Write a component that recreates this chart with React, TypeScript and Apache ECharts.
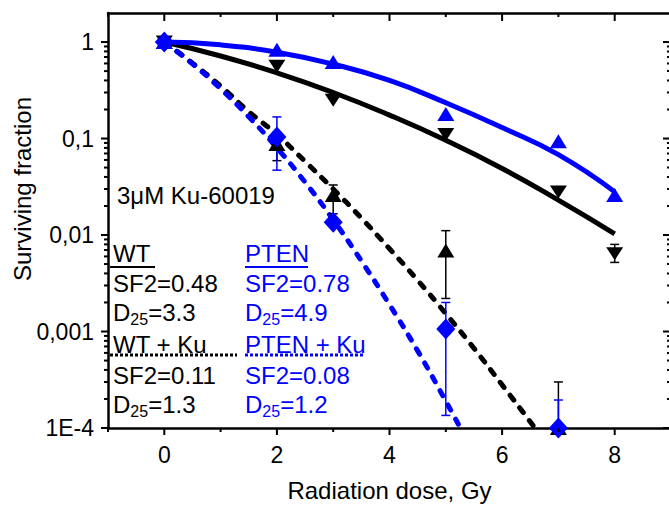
import React, { useEffect, useRef } from 'react';
import * as echarts from 'echarts';

// ---- measured data ----
const doses = [0, 2, 3, 5, 7, 8];
const wtSF = [1, 0.56, 0.25, 0.11, 0.028, 0.0064];
const ptenSF = [1, 0.83, 0.62, 0.18, 0.094, 0.026];
const kuDoses = [0, 2, 3, 5, 7];
const wtKuSF = [1, 0.088, 0.026, 0.0069, 0.0001];
const ptenKuSF = [1, 0.104, 0.0136, 0.00106, 0.0001];

// error bars
const wtErrDoses = [8];
const wtErrLow = [0.0052];
const wtErrHigh = [0.008];
const wtKuErrDoses = [2, 3, 5, 7];
const wtKuErrLow = [0.059, 0.0166, 0.0022, 0.0001];
const wtKuErrHigh = [0.11, 0.033, 0.0111, 0.0003];
const ptenKuErrDoses = [2, 5, 7];
const ptenKuErrLow = [0.047, 0.000135, 0.0001];
const ptenKuErrHigh = [0.1675, 0.002, 0.000195];

// fitted curves
const fitDoses = [0, 1, 2, 3, 4, 5, 6, 7, 8];
const wtFit = [1, 0.717, 0.48, 0.3, 0.175, 0.096, 0.049, 0.023, 0.0103];
const ptenFit = [1, 0.935, 0.785, 0.59, 0.4, 0.235, 0.13, 0.068, 0.028];
const wtKuFitDoses = [0, 0.5, 1, 1.5, 2, 2.5, 3, 3.5, 4, 4.5, 5, 5.5, 6, 6.5, 6.8];
const wtKuFit = [1, 0.605, 0.35, 0.19, 0.11, 0.058, 0.03, 0.015, 0.0072, 0.0034, 0.00153, 0.00067, 0.00028, 0.000116, 0.000067];
const ptenKuFitDoses = [0, 0.5, 1, 1.5, 2, 2.5, 3, 3.5, 4, 4.5, 5, 5.3];
const ptenKuFit = [1, 0.595, 0.328, 0.168, 0.08, 0.0353, 0.0144, 0.0054, 0.0019, 0.00063, 0.00019, 0.00009];

// axes
const X_MIN = -1;
const X_MAX = 9;
const Y_MIN = 0.0001;
const Y_MAX = 2;
const yTickLabels = ['1E-4', '0,001', '0,01', '0,1', '1'];
const xMajorTicks = [0, 2, 4, 6, 8];
const xMinorTicks = [-1, 1, 3, 5, 7, 9];
const yMajorTicks = [0.0001, 0.001, 0.01, 0.1, 1];
const yMinorMantissas = [2, 3, 4, 5, 6, 7, 8, 9];
const xTitle = 'Radiation dose, Gy';
const yTitle = 'Surviving fraction';

// annotation texts
const noteText = '3μM Ku-60019';
const leftCol = ['WT', 'SF2=0.48', '{m|D}{s|25}{m|=3.3}', 'WT + Ku', 'SF2=0.11', '{m|D}{s|25}{m|=1.3}'];
const rightCol = ['PTEN', 'SF2=0.78', '{m|D}{s|25}{m|=4.9}', 'PTEN + Ku', 'SF2=0.08', '{m|D}{s|25}{m|=1.2}'];

const BLUE = '#0000ff';
const BLACK = '#000000';
const FONT = 'Arial, "Liberation Sans", sans-serif';

const zip = (xs: number[], ys: number[]) => xs.map((x, i) => [x, ys[i]]);

function yMinorTicks(): number[] {
  const out: number[] = [];
  for (let e = -4; e <= -1; e++) {
    for (const m of yMinorMantissas) out.push(Number((m * Math.pow(10, e)).toPrecision(6)));
  }
  return out;
}

function xTickSeries(values: number[], lenBottom: number, lenTop: number) {
  return {
    type: 'custom',
    clip: false,
    silent: true,
    z: 10,
    data: values.map((v) => [v, 1]),
    renderItem: (_p: any, api: any) => {
      const x = api.value(0);
      const b = api.coord([x, Y_MIN]);
      const t = api.coord([x, Y_MAX]);
      return {
        type: 'group',
        children: [
          { type: 'line', shape: { x1: b[0], y1: b[1], x2: b[0], y2: b[1] + lenBottom }, style: { stroke: BLACK, lineWidth: 2 } },
          { type: 'line', shape: { x1: t[0], y1: t[1], x2: t[0], y2: t[1] + lenTop }, style: { stroke: BLACK, lineWidth: 2 } },
        ],
      };
    },
  };
}

function yTickSeries(values: number[], lenLeft: number, lenRight: number) {
  return {
    type: 'custom',
    clip: false,
    silent: true,
    z: 10,
    data: values.map((v) => [0, v]),
    renderItem: (_p: any, api: any) => {
      const y = api.value(1);
      const l = api.coord([X_MIN, y]);
      const r = api.coord([X_MAX, y]);
      return {
        type: 'group',
        children: [
          { type: 'line', shape: { x1: l[0] - lenLeft, y1: l[1], x2: l[0], y2: l[1] }, style: { stroke: BLACK, lineWidth: 2 } },
          { type: 'line', shape: { x1: r[0] - lenRight, y1: r[1], x2: r[0], y2: r[1] }, style: { stroke: BLACK, lineWidth: 2 } },
        ],
      };
    },
  };
}

function errSeries(xs: number[], low: number[], high: number[], color: string, z: number) {
  return {
    type: 'custom',
    clip: false,
    silent: true,
    z,
    encode: { x: 0, y: [1, 2] },
    data: xs.map((x, i) => [x, low[i], high[i]]),
    renderItem: (_p: any, api: any) => {
      const x = api.value(0);
      const lo = api.coord([x, api.value(1)]);
      const hi = api.coord([x, api.value(2)]);
      const w = 4.5;
      const st = { stroke: color, lineWidth: 1.5 };
      return {
        type: 'group',
        children: [
          { type: 'line', shape: { x1: lo[0], y1: lo[1], x2: hi[0], y2: hi[1] }, style: st },
          { type: 'line', shape: { x1: lo[0] - w, y1: lo[1], x2: lo[0] + w, y2: lo[1] }, style: st },
          { type: 'line', shape: { x1: hi[0] - w, y1: hi[1], x2: hi[0] + w, y2: hi[1] }, style: st },
        ],
      };
    },
  };
}

function textEl(x: number, y: number, text: string, color: string) {
  return {
    type: 'text',
    left: x,
    top: y - 15,
    style: {
      text,
      fill: color,
      fontSize: 24,
      fontFamily: FONT,
      rich: {
        m: { fontSize: 24, fontFamily: FONT, lineHeight: 30, fill: color, color },
        s: { fontSize: 16, fontFamily: FONT, lineHeight: 10, verticalAlign: 'bottom', fill: color, color },
      },
      lineHeight: 30,
    },
  };
}

export default function App() {
  const ref = useRef<HTMLDivElement>(null);
  useEffect(() => {
    if (!ref.current) return;
    const chart = echarts.init(ref.current, null, { renderer: 'svg' });
    const rowY = [253, 283, 312, 344, 375, 404];
    const graphics: any[] = [];
    graphics.push(textEl(117, 195, noteText, BLACK));
    leftCol.forEach((t, i) => graphics.push(textEl(113, rowY[i], t, BLACK)));
    rightCol.forEach((t, i) => graphics.push(textEl(245, rowY[i], t, BLUE)));
    graphics.push({ type: 'line', shape: { x1: 110, y1: 267, x2: 155, y2: 267 }, style: { stroke: BLACK, lineWidth: 2 } });
    graphics.push({ type: 'line', shape: { x1: 245, y1: 267, x2: 308, y2: 267 }, style: { stroke: BLUE, lineWidth: 2 } });
    graphics.push({ type: 'line', shape: { x1: 110, y1: 355, x2: 237, y2: 355 }, style: { stroke: BLACK, lineWidth: 3, lineDash: [3, 2] } });
    graphics.push({ type: 'line', shape: { x1: 245, y1: 355, x2: 364, y2: 355 }, style: { stroke: BLUE, lineWidth: 3, lineDash: [3, 2] } });
    graphics.push({
      type: 'text', x: 22, y: 189, rotation: Math.PI / 2,
      style: { text: yTitle, fill: BLACK, fontSize: 24, fontFamily: FONT, align: 'center', verticalAlign: 'middle' },
    });

    const axisLine = { show: true, onZero: false, lineStyle: { color: BLACK, width: 2.5 } };
    chart.setOption({
      animation: false,
      backgroundColor: '#ffffff',
      textStyle: { fontFamily: FONT },
      grid: { left: 108, top: 13, width: 563, height: 415, containLabel: false, outerBoundsMode: 'none' },
      xAxis: [
        {
          type: 'value', position: 'bottom', min: X_MIN, max: X_MAX, interval: 1,
          axisLine, axisTick: { show: false }, splitLine: { show: false },
          axisLabel: {
            color: BLACK, fontSize: 23, fontFamily: FONT, margin: 15,
            formatter: (v: number) => (Math.round(v) % 2 === 0 ? String(Math.round(v)) : ''),
          },
          name: xTitle, nameLocation: 'middle', nameGap: 50,
          nameTextStyle: { color: BLACK, fontSize: 24, fontFamily: FONT },
        },
        {
          type: 'value', position: 'top', min: X_MIN, max: X_MAX, interval: 1,
          axisLine, axisTick: { show: false }, splitLine: { show: false }, axisLabel: { show: false },
        },
      ],
      yAxis: [
        {
          type: 'log', logBase: 10, min: Y_MIN, max: Y_MAX, position: 'left',
          axisLine, axisTick: { show: false }, splitLine: { show: false }, minorTick: { show: false },
          axisLabel: {
            color: BLACK, fontSize: 23, fontFamily: FONT, margin: 14,
            formatter: (v: number) => {
              const l = Math.log10(v);
              const e = Math.round(l);
              if (Math.abs(l - e) > 1e-6 || e < -4 || e > 0) return '';
              return yTickLabels[e + 4];
            },
          },
        },
        {
          type: 'log', logBase: 10, min: Y_MIN, max: Y_MAX, position: 'right',
          axisLine, axisTick: { show: false }, splitLine: { show: false }, axisLabel: { show: false },
        },
      ],
      graphic: graphics,
      series: [
        xTickSeries(xMajorTicks, 7, 8),
        xTickSeries(xMinorTicks, 4, 4),
        yTickSeries(yMajorTicks, 7, 8),
        yTickSeries(yMinorTicks(), 4, 4),
        {
          type: 'line', data: zip(fitDoses, wtFit), smooth: true, showSymbol: false, z: 2, silent: true,
          lineStyle: { color: BLACK, width: 5 },
        },
        {
          type: 'line', data: zip(fitDoses, ptenFit), smooth: true, showSymbol: false, z: 2, silent: true,
          lineStyle: { color: BLUE, width: 5 },
        },
        {
          type: 'line', data: zip(wtKuFitDoses, wtKuFit), smooth: true, showSymbol: false, z: 2, silent: true,
          lineStyle: { color: BLACK, width: 5, type: [6, 10], cap: 'round' },
        },
        {
          type: 'line', data: zip(ptenKuFitDoses, ptenKuFit), smooth: true, showSymbol: false, z: 2, silent: true,
          lineStyle: { color: BLUE, width: 5, type: [6, 10], cap: 'round' },
        },
        errSeries(wtErrDoses, wtErrLow, wtErrHigh, BLACK, 3),
        errSeries(wtKuErrDoses, wtKuErrLow, wtKuErrHigh, BLACK, 3),
        errSeries(ptenKuErrDoses, ptenKuErrLow, ptenKuErrHigh, BLUE, 4),
        {
          type: 'scatter', data: zip(doses, wtSF), symbol: 'triangle', symbolRotate: 180, symbolSize: [17, 13],
          itemStyle: { color: BLACK, opacity: 1 }, z: 5, clip: false, silent: true,
        },
        {
          type: 'scatter', data: zip(kuDoses, wtKuSF), symbol: 'triangle', symbolSize: [17, 14],
          itemStyle: { color: BLACK, opacity: 1 }, z: 5, clip: false, silent: true,
        },
        {
          type: 'scatter', data: zip(doses, ptenSF), symbol: 'triangle', symbolSize: [17, 14],
          itemStyle: { color: BLUE, opacity: 1 }, z: 6, clip: false, silent: true,
        },
        {
          type: 'scatter', data: zip(kuDoses, ptenKuSF), symbol: 'diamond', symbolSize: [19, 21],
          itemStyle: { color: BLUE, opacity: 1 }, z: 7, clip: false, silent: true,
        },
      ],
    });
    return () => chart.dispose();
  }, []);
  return <div ref={ref} style={{ position: 'fixed', left: 0, top: 0, width: 669, height: 505 }} />;
}
